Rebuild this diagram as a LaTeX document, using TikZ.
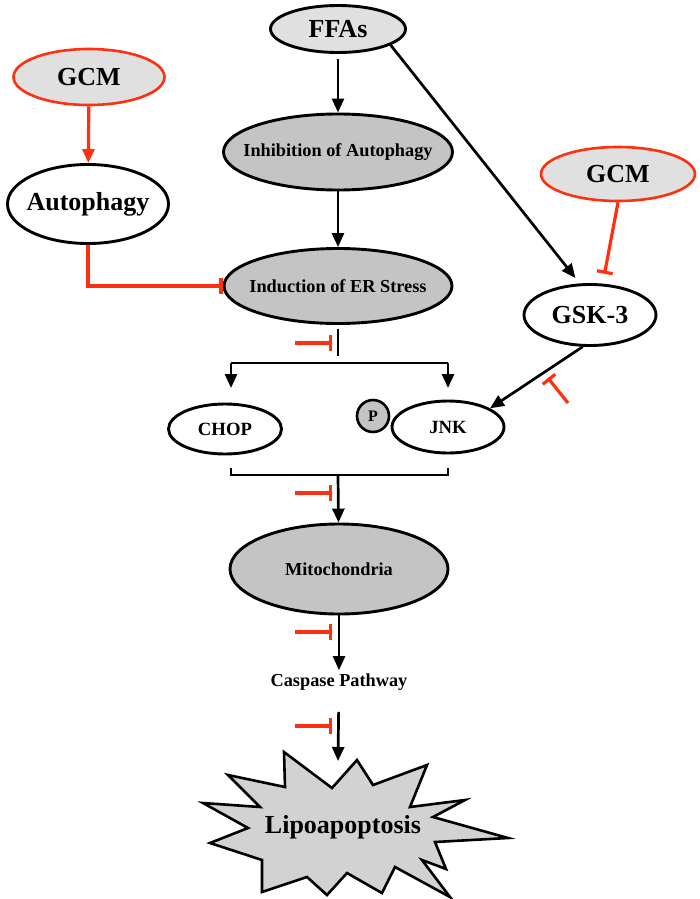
\documentclass[tikz,border=0pt]{standalone}
\usepackage{fontspec}
\setmainfont{Liberation Serif}
\usetikzlibrary{arrows.meta,shapes.geometric}

\definecolor{gcmred}{RGB}{255,48,16}
\definecolor{palegray}{RGB}{224,224,224}
\definecolor{midgray}{RGB}{196,196,196}
\definecolor{burstgray}{RGB}{210,210,210}

\begin{document}
\begin{tikzpicture}[x=1pt,y=-1pt,
  oval/.style={ellipse, draw, line width=2.9pt, inner xsep=-25pt, inner ysep=0pt},
  lightoval/.style={oval, fill=palegray},
  darkoval/.style={oval, fill=midgray},
  gcmoval/.style={oval, draw=gcmred, fill=palegray, line width=2.6pt},
  big/.style={font=\fontsize{26}{28}\selectfont\bfseries},
  small/.style={font=\fontsize{18.3}{20}\selectfont\bfseries},
  arr/.style={line width=2.7pt, -{Triangle[width=12pt,length=14pt]}},
  redarr/.style={line width=3.2pt, gcmred, -{Triangle[width=12pt,length=14pt]}},
  inh/.style={line width=3.2pt, gcmred, -{Bar[width=16pt]}},
  link/.style={line width=2.7pt}]
\useasboundingbox (0,0) rectangle (700,899);

% nodes
\node[lightoval, big, minimum width=135pt, minimum height=47pt] (ffas) at (338,29) {FFAs};
\node[darkoval, small, minimum width=229pt, minimum height=76pt] (inhib) at (338,152) {Inhibition of Autophagy};
\node[darkoval, small, minimum width=228pt, minimum height=75pt] (induc) at (338,286) {Induction of ER Stress};
\node[gcmoval, big, minimum width=151pt, minimum height=56pt] (gcmleft) at (89,77) {GCM};
\node[oval, fill=white, big, minimum width=161pt, minimum height=79pt] (autoph) at (88,204) {Autophagy};
\node[gcmoval, big, minimum width=154pt, minimum height=54pt] (gcmright) at (618,174) {GCM};
\node[oval, fill=white, big, minimum width=132pt, minimum height=61pt] (gsk) at (590,315) {GSK-3};
\node[oval, fill=white, font=\fontsize{18.7}{20}\selectfont\bfseries, minimum width=113pt, minimum height=50pt] (chop) at (225,429) {CHOP};
\node[oval, fill=white, font=\fontsize{18.7}{20}\selectfont\bfseries, minimum width=112pt, minimum height=52pt] (jnk) at (448,427) {JNK};
\node[circle, draw, line width=2.6pt, fill=midgray, inner sep=0pt, minimum size=32pt, font=\fontsize{16}{18}\selectfont\bfseries] (phos) at (373,416) {P};
\node[darkoval, small, minimum width=218pt, minimum height=90pt] (mito) at (339,569) {Mitochondria};
\node[small] (casp) at (339,682) {Caspase Pathway};

% lipoapoptosis burst
\draw[line width=2.6pt, fill=burstgray] (284,752) -- (332,788) -- (357,760) -- (373,785) -- (427,765) -- (410,807)
  -- (465,800) -- (433,817) -- (508,838) -- (435,842) -- (446,869) -- (422,860) -- (450,897) -- (395,867)
  -- (382,893) -- (347,873) -- (327,895) -- (307,877) -- (262,892) -- (262,860) -- (210,843) -- (248,828)
  -- (203,803) -- (260,807) -- (228,775) -- (285,787) -- cycle;
\node[font=\fontsize{26}{28}\selectfont\bfseries] (lipo) at (343,827) {Lipoapoptosis};
\coordinate (lipotop) at (338,761);

% main column
\draw[arr, shorten <=5pt] (ffas) -- (inhib);
\draw[arr] (inhib) -- (induc);
\coordinate (split) at (338,356);
\draw[link, shorten <=4pt] (induc) -- (split);
\coordinate (bl) at (231,363);
\coordinate (br) at (448,363);
\draw[link] (bl) -- (br);
\draw[arr] (bl) -- ++(0,25);
\draw[arr] (br) -- ++(0,25);
\coordinate (joinL) at (231,468);
\coordinate (joinR) at (448,468);
\coordinate (join) at (338,475);
\draw[link] (joinL) |- (join) -| (joinR);
\draw[arr] (join) -- (mito);
\draw[arr] (mito) -- (casp);
\draw[arr, shorten <=18pt] (casp) -- (lipotop);

% right branch
\draw[arr, shorten >=7pt] (ffas.-17) -- (gsk.108);
\draw[inh, shorten >=10pt] (gcmright.south) -- (gsk.68);
\draw[arr] (gsk.-103) -- (jnk.24);
\coordinate (gskmarkA) at (568,403);
\coordinate (gskmarkB) at (548,378);
\draw[inh] (gskmarkA) -- (gskmarkB);

% left branch
\draw[redarr] (gcmleft) -- (autoph);
\draw[inh, line join=miter] (autoph.south) |- (induc.west);

% blocking marks on the column
\foreach \y/\n in {343/a,493/b,632/c,726/d} {
  \coordinate (mark\n) at (332,\y);
  \draw[inh] (mark\n) ++(-37,0) -- (mark\n);
}
\end{tikzpicture}
\end{document}
